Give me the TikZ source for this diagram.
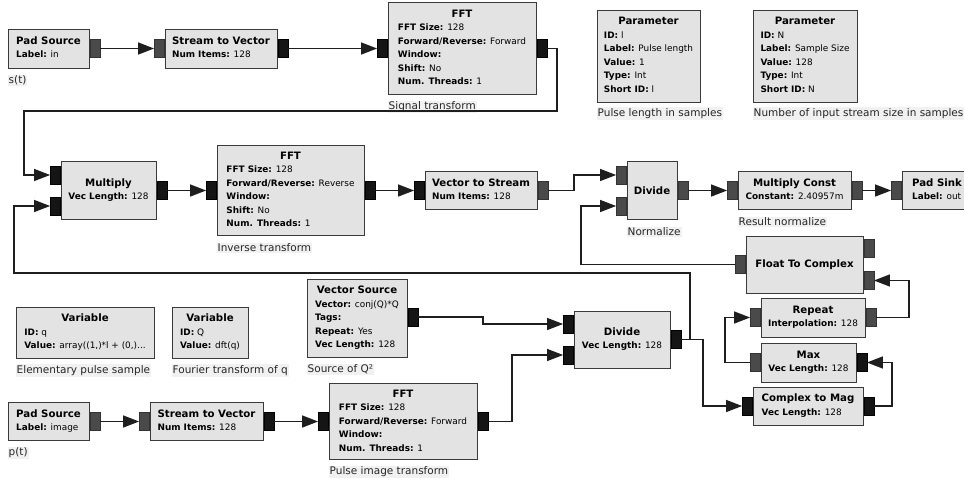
\documentclass[tikz,border=0pt]{standalone}
\usepackage{fontspec}
\setmainfont{DejaVu Sans}
\usetikzlibrary{arrows.meta,calc}

\definecolor{blkfill}{HTML}{E3E3E3}
\definecolor{blkline}{HTML}{3A3A3A}
\definecolor{portvec}{HTML}{151515}
\definecolor{portflt}{HTML}{4A4A4A}
\definecolor{wirec}{HTML}{1E1E1E}
\definecolor{notefill}{HTML}{F1F1F1}

% block text helpers
\newcommand\btitle[1]{\multicolumn{1}{@{}c@{}}{\fontsize{10.2}{13.5}\selectfont\bfseries #1}}
\newcommand\pkv[2]{\textbf{#1:} #2}
\newcommand\blines[1]{\begin{tabular}{@{}l@{}}#1\end{tabular}}
\newcommand\onlytitle[1]{{\fontsize{10.2}{12}\selectfont\bfseries #1}}

\tikzset{
  blk/.style={rectangle, draw=blkline, fill=blkfill, line width=1pt, inner sep=0pt,
              font=\fontsize{8.9}{13.5}\selectfont},
  vport/.style={rectangle, fill=portvec, draw=black, line width=0.4pt,
                minimum width=10pt, minimum height=18pt, inner sep=0pt},
  fport/.style={vport, fill=portflt, draw=black!80},
  wire/.style={draw=wirec, line width=1.3pt},
  arr/.style={wire, -{Triangle[length=16pt,width=12pt]}},
  note/.style={anchor=west, fill=notefill, inner sep=1pt,
               font=\fontsize{10.5}{12}\selectfont, text=black!85},
}

\begin{document}
\begin{tikzpicture}[x=1pt,y=-1pt]
\fill[white] (0,0) rectangle (964,479);
\useasboundingbox (0,0) rectangle (964,479);

% ---------- blocks ----------
\node[blk, minimum width=81pt, minimum height=39pt] (ps1) at (48.5,48.5)
  {\blines{\btitle{Pad Source}\\ \pkv{Label}{in}}};
\node[blk, minimum width=112pt, minimum height=39pt] (s2v1) at (221,48.5)
  {\blines{\btitle{Stream to Vector}\\ \pkv{Num Items}{128}}};
\node[blk, minimum width=148pt, minimum height=92pt] (fft1) at (462,48.5)
  {\blines{\btitle{FFT}\\ \pkv{FFT Size}{128}\\ \pkv{Forward/Reverse}{Forward}\\
   \pkv{Window}{}\\ \pkv{Shift}{No}\\ \pkv{Num. Threads}{1}}};
\node[blk, minimum width=103pt, minimum height=92pt] (par1) at (648.5,56)
  {\blines{\btitle{Parameter}\\ \pkv{ID}{l}\\ \pkv{Label}{Pulse length}\\
   \pkv{Value}{1}\\ \pkv{Type}{Int}\\ \pkv{Short ID}{l}}};
\node[blk, minimum width=104pt, minimum height=92pt] (par2) at (805,56)
  {\blines{\btitle{Parameter}\\ \pkv{ID}{N}\\ \pkv{Label}{Sample Size}\\
   \pkv{Value}{128}\\ \pkv{Type}{Int}\\ \pkv{Short ID}{N}}};

\node[blk, minimum width=95pt, minimum height=58pt] (mul) at (108.5,190.5)
  {\blines{\btitle{Multiply}\\ \pkv{Vec Length}{128}}};
\node[blk, minimum width=147pt, minimum height=90pt] (fft2) at (290.5,190.5)
  {\blines{\btitle{FFT}\\ \pkv{FFT Size}{128}\\ \pkv{Forward/Reverse}{Reverse}\\
   \pkv{Window}{}\\ \pkv{Shift}{No}\\ \pkv{Num. Threads}{1}}};
\node[blk, minimum width=112pt, minimum height=38pt] (v2s) at (481,190.5)
  {\blines{\btitle{Vector to Stream}\\ \pkv{Num Items}{128}}};
\node[blk, minimum width=50pt, minimum height=58pt] (div1) at (652,190.5)
  {\onlytitle{Divide}};
\node[blk, minimum width=113pt, minimum height=38pt] (mc) at (794.5,190.5)
  {\blines{\btitle{Multiply Const}\\ \pkv{Constant}{2.40957m}}};
\node[blk, minimum width=70pt, minimum height=38pt] (sink) at (937,190.5)
  {\blines{\btitle{Pad Sink}\\ \pkv{Label}{out}}};

\node[blk, minimum width=117pt, minimum height=57pt] (f2c) at (804.5,264.5)
  {\onlytitle{Float To Complex}};
\node[blk, minimum width=104pt, minimum height=39pt] (rep) at (813,317.5)
  {\blines{\btitle{Repeat}\\ \pkv{Interpolation}{128}}};
\node[blk, minimum width=95pt, minimum height=39pt] (max) at (808.5,362.5)
  {\blines{\btitle{Max}\\ \pkv{Vec Length}{128}}};
\node[blk, minimum width=110pt, minimum height=38pt] (c2m) at (808,406)
  {\blines{\btitle{Complex to Mag}\\ \pkv{Vec Length}{128}}};

\node[blk, minimum width=96pt, minimum height=57pt] (div2) at (622,339.5)
  {\blines{\btitle{Divide}\\ \pkv{Vec Length}{128}}};
\node[blk, minimum width=100pt, minimum height=78pt] (vs) at (357,318)
  {\blines{\btitle{Vector Source}\\ \pkv{Vector}{conj(Q)*Q}\\ \pkv{Tags}{}\\
   \pkv{Repeat}{Yes}\\ \pkv{Vec Length}{128}}};
\node[blk, minimum width=138pt, minimum height=51pt] (varq) at (85,332.5)
  {\blines{\btitle{Variable}\\ \pkv{ID}{q}\\ \pkv{Value}{array((1,)*l + (0,)...}}};
\node[blk, minimum width=76pt, minimum height=51pt] (varQ) at (210,332.5)
  {\blines{\btitle{Variable}\\ \pkv{ID}{Q}\\ \pkv{Value}{dft(q)}}};

\node[blk, minimum width=81pt, minimum height=38pt] (ps2) at (48.5,421.5)
  {\blines{\btitle{Pad Source}\\ \pkv{Label}{image}}};
\node[blk, minimum width=113pt, minimum height=38pt] (s2v2) at (206.5,421.5)
  {\blines{\btitle{Stream to Vector}\\ \pkv{Num Items}{128}}};
\node[blk, minimum width=148pt, minimum height=76pt] (fft3) at (403,421.5)
  {\blines{\btitle{FFT}\\ \pkv{FFT Size}{128}\\ \pkv{Forward/Reverse}{Forward}\\
   \pkv{Window}{}\\ \pkv{Num. Threads}{1}}};

% ---------- ports ----------
\node[fport, anchor=west] (ps1o) at (ps1.east) {};
\node[fport, anchor=east] (s2v1i) at (s2v1.west) {};
\node[vport, anchor=west] (s2v1o) at (s2v1.east) {};
\node[vport, anchor=east] (fft1i) at (fft1.west) {};
\node[vport, anchor=west] (fft1o) at (fft1.east) {};

\node[vport, anchor=east] (muli1) at ([yshift=15.5pt]mul.west) {};
\node[vport, anchor=east] (muli2) at ([yshift=-15.5pt]mul.west) {};
\node[vport, anchor=west] (mulo) at (mul.east) {};
\node[vport, anchor=east] (fft2i) at (fft2.west) {};
\node[vport, anchor=west] (fft2o) at (fft2.east) {};
\node[vport, anchor=east] (v2si) at (v2s.west) {};
\node[fport, anchor=west] (v2so) at (v2s.east) {};
\node[fport, anchor=east] (div1i1) at ([yshift=15.5pt]div1.west) {};
\node[fport, anchor=east] (div1i2) at ([yshift=-15.5pt]div1.west) {};
\node[fport, anchor=west] (div1o) at (div1.east) {};
\node[fport, anchor=east] (mci) at (mc.west) {};
\node[fport, anchor=west] (mco) at (mc.east) {};
\node[fport, anchor=east] (sinki) at (sink.west) {};

\node[fport, anchor=east] (f2co) at (f2c.west) {};
\node[fport, anchor=west] (f2ci1) at ([yshift=16pt]f2c.east) {};
\node[fport, anchor=west] (f2ci2) at ([yshift=-16pt]f2c.east) {};
\node[fport, anchor=east] (repi) at (rep.west) {};
\node[fport, anchor=west] (repo) at (rep.east) {};
\node[fport, anchor=east] (maxo) at (max.west) {};
\node[vport, anchor=west] (maxi) at (max.east) {};
\node[vport, anchor=east] (c2mi) at (c2m.west) {};
\node[vport, anchor=west] (c2mo) at (c2m.east) {};

\node[vport, anchor=east] (div2i1) at ([yshift=15.5pt]div2.west) {};
\node[vport, anchor=east] (div2i2) at ([yshift=-15.5pt]div2.west) {};
\node[vport, anchor=west] (div2o) at (div2.east) {};
\node[vport, anchor=west] (vso) at ([yshift=1pt]vs.east) {};

\node[fport, anchor=west] (ps2o) at (ps2.east) {};
\node[fport, anchor=east] (s2v2i) at (s2v2.west) {};
\node[vport, anchor=west] (s2v2o) at (s2v2.east) {};
\node[vport, anchor=east] (fft3i) at (fft3.west) {};
\node[vport, anchor=west] (fft3o) at (fft3.east) {};

% ---------- block comments ----------
\node[note] (nps1) at ($(ps1.south west)+(0,12)$) {s(t)};
\node[note] (nfft1) at ($(fft1.south west)+(0,12)$) {Signal transform};
\node[note] (npar1) at ($(par1.south west)+(0,11)$) {Pulse length in samples};
\node[note] (npar2) at ($(par2.south west)+(0,11)$) {Number of input stream size in samples};
\node[note] (nfft2) at ($(fft2.south west)+(0,12)$) {Inverse transform};
\node[note] (ndiv1) at ($(div1.south west)+(0,12)$) {Normalize};
\node[note] (nmc) at ($(mc.south west)+(0,12)$) {Result normalize};
\node[note] (nvarq) at ($(varq.south west)+(0,12)$) {Elementary pulse sample};
\node[note] (nvarQ) at ($(varQ.south west)+(0,12)$) {Fourier transform of q};
\node[note] (nvs) at ($(vs.south west)+(0,12)$) {Source of Q²};
\node[note] (nps2) at ($(ps2.south west)+(0,12)$) {p(t)};
\node[note] (nfft3) at ($(fft3.south west)+(0,12)$) {Pulse image transform};

% ---------- routing points ----------
\coordinate (tr) at (557,111);
\coordinate (tl) at (24,111);
\coordinate (fbr) at (690,273);
\coordinate (fbl) at (14,273);
\coordinate (jA) at (574,0);
\coordinate (jB) at (581,0);
\coordinate (jE) at (703,0);
\coordinate (jF) at (892,0);
\coordinate (jG) at (725,0);
\coordinate (jH) at (909,0);
\coordinate (jI) at (483,0);
\coordinate (jJ) at (512,0);

% ---------- connections ----------
\draw[arr] (ps1o.east) -- (s2v1i.west);
\draw[arr] (s2v1o.east) -- (fft1i.west);
\draw[arr] (fft1o.east) -| (tr) -- (tl) |- (muli1.west);
\draw[arr] (mulo.east) -- (fft2i.west);
\draw[arr] (fft2o.east) -- (v2si.west);
\draw[arr] (v2so.east) -| (jA |- div1i1.west) -- (div1i1.west);
\draw[arr] (div1o.east) -- (mci.west);
\draw[arr] (mco.east) -- (sinki.west);
\draw[arr] (f2co.west) -| (jB |- div1i2.west) -- (div1i2.west);
\draw[arr] (div2o.east) -| (fbr) -- (fbl) |- (muli2.west);
\draw[arr] (div2o.east) -| (jE |- c2mi.west) -- (c2mi.west);
\draw[arr] (c2mo.east) -| (jF |- maxi.east) -- (maxi.east);
\draw[arr] (maxo.west) -| (jG |- repi.west) -- (repi.west);
\draw[arr] (repo.east) -| (jH |- f2ci2.east) -- (f2ci2.east);
\draw[arr] (vso.east) -| (jI |- div2i1.west) -- (div2i1.west);
\draw[arr] (fft3o.east) -| (jJ |- div2i2.west) -- (div2i2.west);
\draw[arr] (ps2o.east) -- (s2v2i.west);
\draw[arr] (s2v2o.east) -- (fft3i.west);
\end{tikzpicture}
\end{document}
